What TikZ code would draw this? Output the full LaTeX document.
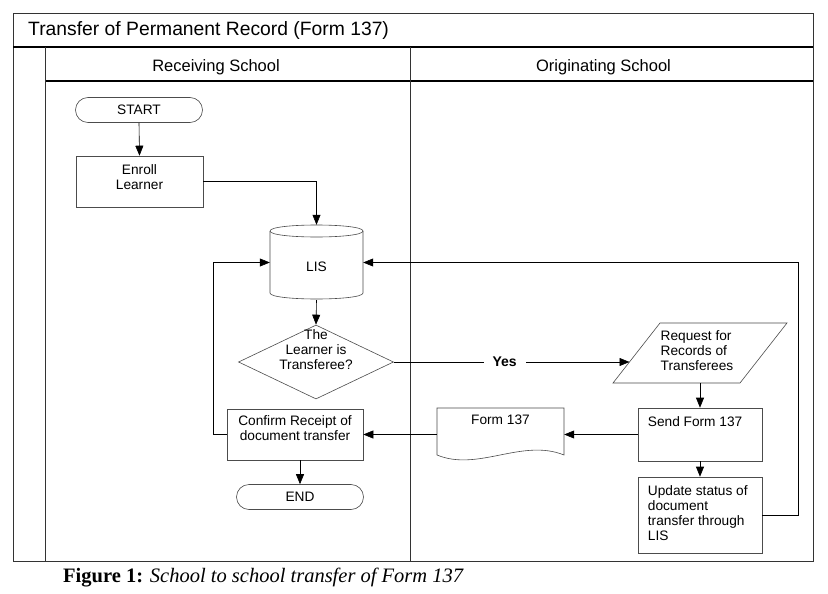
\documentclass[tikz,border=0pt]{standalone}
\usepackage{fontspec}
\setmainfont{Liberation Sans}
\newfontfamily\capfont{Liberation Serif}
\usetikzlibrary{shapes.misc,shapes.geometric,arrows.meta,calc}
\begin{document}
\begin{tikzpicture}[x=1pt,y=-1pt,
  shp/.style={draw=black!70, line width=0.6pt},
  txt/.style={font=\fontsize{13.7}{15}\selectfont, inner sep=0pt, align=center},
  ltxt/.style={txt, align=left, anchor=north west},
  arr/.style={draw=black, line width=0.6pt, -{Triangle[length=10pt,width=8pt]}},
  frm/.style={draw=black!80, line width=0.7pt},
  hfrm/.style={draw=black, line width=1.3pt},
  boxn/.style={shp, rectangle, inner sep=0pt},
  hole/.style={rectangle, inner sep=0pt, draw=none},
  term/.style={shp, rounded rectangle, inner sep=0pt, minimum width=127pt, minimum height=25pt, font=\fontsize{13.7}{15}\selectfont},
]
\useasboundingbox[fill=white] (0,0) rectangle (828,594);

% frame
\draw[frm] (13,13) rectangle (813,561);
\draw[hfrm] (13,47) -- (813,47);
\draw[hfrm] (45,81) -- (813,81);
\draw[frm] (45,47) -- (45,561);
\draw[frm] (410,47) -- (410,561);

\node[anchor=base west, inner sep=0pt, font=\fontsize{19.3}{22}\selectfont] (title) at (28,36) {Transfer of Permanent Record (Form 137)};
\node[anchor=base, inner sep=0pt, font=\fontsize{16.5}{19}\selectfont] (h1) at (216,72) {Receiving School};
\node[anchor=base, inner sep=0pt, font=\fontsize{16.5}{19}\selectfont] (h2) at (603.5,72) {Originating School};

% Receiving school
\node[term] (start) at (139,110) {START};
\node[boxn, minimum width=127pt, minimum height=51pt] (enroll) at (139.5,181.5) {};
\node[txt, anchor=north] (enrollT) at ([yshift=-9pt]enroll.north) {Enroll\\Learner};

\node[hole, minimum width=93pt, minimum height=75pt] (lis) at (316.5,262.5) {};
\draw[shp] (270,231) .. controls (270,223) and (363,223) .. (363,231)
           .. controls (363,239) and (270,239) .. (270,231);
\draw[shp] (270,231) -- (270,293) .. controls (270,301) and (363,301) .. (363,293) -- (363,231);
\node[txt] (lisT) at ([yshift=-4pt]lis.center) {LIS};

\node[shp, diamond, inner sep=0pt, aspect=2.1, minimum width=155pt, minimum height=74pt] (dec) at (316,362) {};
\node[txt, anchor=north] (decT) at ([yshift=-5pt]dec.north) {The\\Learner is\\Transferee?};

\node[boxn, minimum width=136pt, minimum height=51pt] (confirm) at (295,434.5) {};
\node[txt, anchor=north] (confirmT) at ([yshift=-7pt]confirm.north) {Confirm Receipt of\\document transfer};

\node[term] (endn) at (300,497) {END};

% Originating school
\node[hole, minimum width=127pt, minimum height=60pt] (req) at (700,353) {};
\draw[shp] (660,323) -- (787,323) -- (740,383) -- (613,383) -- cycle;
\coordinate (reqL) at (629.5,362);
\node[txt, align=left] (reqT) at (697,351) {Request for\\Records of\\Transferees};

\node[boxn, minimum width=124pt, minimum height=53pt] (send) at (700,434.5) {};
\node[ltxt] (sendT) at ([xshift=10pt,yshift=-9pt]send.north west) {Send Form 137};

\node[boxn, minimum width=124pt, minimum height=76pt] (upd) at (700,515) {};
\node[ltxt] (updT) at ([xshift=10pt,yshift=-9pt]upd.north west) {Update status of\\document\\transfer through\\LIS};

\node[hole, minimum width=127pt, minimum height=47pt] (form) at (500.5,431.5) {};
\draw[shp] (437,408) -- (564,408) -- (564,455) .. controls (522,438) and (478,472) .. (437,455) -- cycle;
\node[txt, anchor=north] (formT) at ([yshift=-7pt]form.north) {Form 137};

% connectors
\draw[arr] (start.south) -- (enroll.north);
\draw[arr] (enroll.east) -| (lis.north);
\draw[arr] (lis.south) -- (dec.north);
\draw[arr] (dec.east) -- node[pos=0.47, fill=white, inner xsep=9pt, inner ysep=1pt, font=\bfseries\fontsize{14}{16}\selectfont] (yes) {Yes} (reqL);
\draw[arr] (req.south) -- (send.north);
\draw[arr] (send.south) -- (upd.north);
\draw[arr] (send.west) -- (send.west -| form.east);
\draw[arr] (send.west -| form.west) -- (confirm.east);
\draw[arr] (confirm.south -| endn.north) -- (endn.north);
\draw[arr] (confirm.west) -- ++(-13,0) |- (lis.west);
\draw[arr] (upd.east) -- ++(36,0) |- (lis.east);

% caption
\node[anchor=base west, inner sep=0pt, font=\capfont\fontsize{20.5}{24}\selectfont] (cap) at (63,582) {\textbf{Figure 1:} \textit{School to school transfer of Form 137}};
\end{tikzpicture}
\end{document}
